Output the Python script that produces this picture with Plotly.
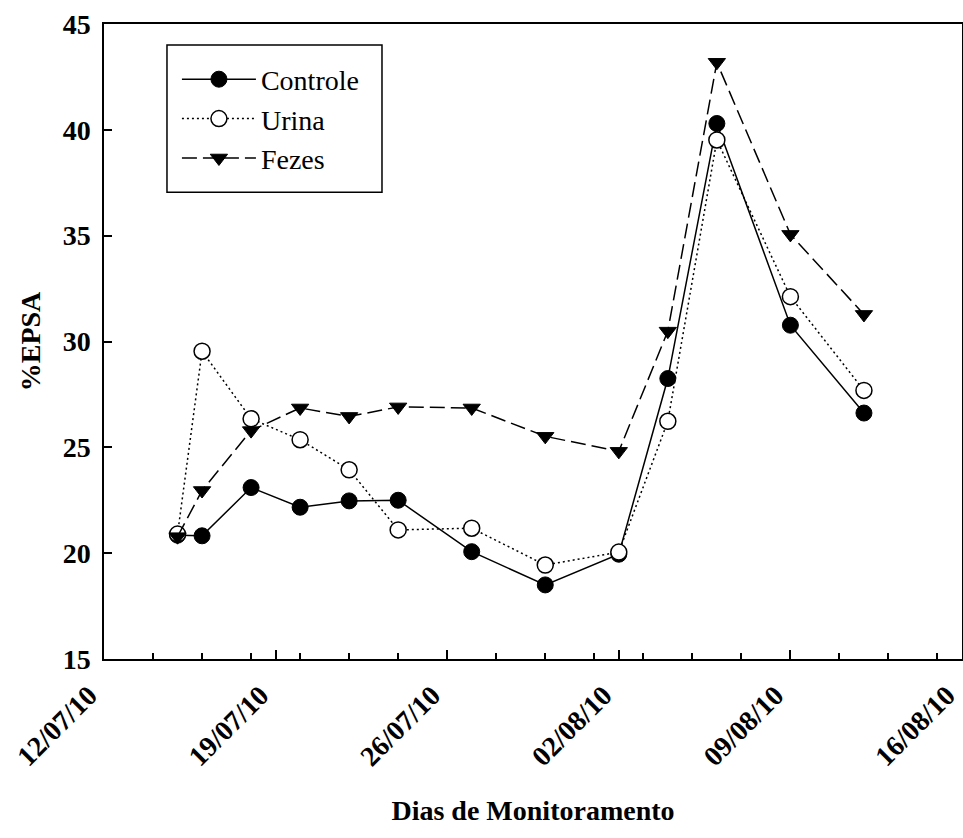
import plotly.graph_objects as go

# Sampling dates (monitoring days)
datas = ['2010-07-15', '2010-07-16', '2010-07-18', '2010-07-20', '2010-07-22',
         '2010-07-24', '2010-07-27', '2010-07-30', '2010-08-02', '2010-08-04',
         '2010-08-06', '2010-08-09', '2010-08-12']

# %EPSA per treatment
controle = [20.85, 20.82, 23.10, 22.17, 22.47, 22.50, 20.07, 18.50, 19.95, 28.25, 40.30, 30.77, 26.62]
urina = [20.90, 29.54, 26.35, 25.36, 23.94, 21.10, 21.18, 19.44, 20.05, 26.23, 39.52, 32.12, 27.69]
fezes = [20.78, 22.96, 25.79, 26.86, 26.46, 26.91, 26.86, 25.52, 24.81, 30.49, 43.19, 35.06, 31.28]

FONT = "Liberation Serif"

fig = go.Figure()
fig.add_trace(go.Scatter(
    x=datas, y=controle, name="Controle", mode="lines+markers",
    line=dict(color="black", width=1.5),
    marker=dict(symbol="circle", size=16, color="black",
                line=dict(color="black", width=1)),
))
fig.add_trace(go.Scatter(
    x=datas, y=urina, name="Urina", mode="lines+markers",
    line=dict(color="black", width=1.5, dash="2px,3px"),
    marker=dict(symbol="circle", size=16, color="white",
                line=dict(color="black", width=1.5)),
))
fig.add_trace(go.Scatter(
    x=datas, y=fezes, name="Fezes", mode="lines+markers",
    line=dict(color="black", width=1.5, dash="15px,6px"),
    marker=dict(symbol="triangle-down", size=15, color="black",
                line=dict(color="black", width=1)),
))

# Frame around the legend entries
fig.add_shape(type="rect", xref="paper", yref="paper",
              x0=0.0734, x1=0.324, y0=0.735, y1=0.967,
              line=dict(color="black", width=1.5), fillcolor="white",
              layer="below")

fig.update_layout(
    width=963, height=838,
    margin=dict(l=104, r=1, t=24, b=179),
    paper_bgcolor="white", plot_bgcolor="white",
    font=dict(family=FONT, color="black"),
    showlegend=True,
    legend=dict(
        x=0.085, y=0.952, xanchor="left", yanchor="top",
        bgcolor="rgba(0,0,0,0)", borderwidth=0,
        font=dict(family=FONT, size=28, color="black"),
        itemwidth=74, tracegroupgap=0,
    ),
    xaxis=dict(
        type="date",
        range=["2010-07-12", "2010-08-16"],
        tick0="2010-07-12", dtick=7 * 86400000,
        tickformat="%d/%m/%y", tickangle=-45,
        ticklabeloverflow="allow", automargin=False,
        ticklabelshift=-15, ticklabelstandoff=7,
        ticks="inside", ticklen=9, tickwidth=1.5, tickcolor="black",
        minor=dict(tick0="2010-07-12", dtick=2 * 86400000, ticks="inside",
                   ticklen=6, tickwidth=1.5, tickcolor="black", showgrid=False),
        showgrid=False, zeroline=False,
        showline=True, linewidth=1.5, linecolor="black", mirror=True,
        tickfont=dict(family=FONT, size=28, color="black", weight="bold"),
        title=dict(text="<b>Dias de Monitoramento</b>",
                   font=dict(family=FONT, size=28, color="black"), standoff=30),
    ),
    yaxis=dict(
        range=[15, 45], dtick=5, automargin=False,
        ticks="inside", ticklen=8, tickwidth=1.5, tickcolor="black",
        showgrid=False, zeroline=False,
        showline=True, linewidth=1.5, linecolor="black", mirror=True,
        tickfont=dict(family=FONT, size=28, color="black", weight="bold"),
        ticklabelstandoff=6,
        title=dict(text="<b>%EPSA</b>",
                   font=dict(family=FONT, size=28, color="black"), standoff=14),
    ),
)

fig.write_html("out.html")
